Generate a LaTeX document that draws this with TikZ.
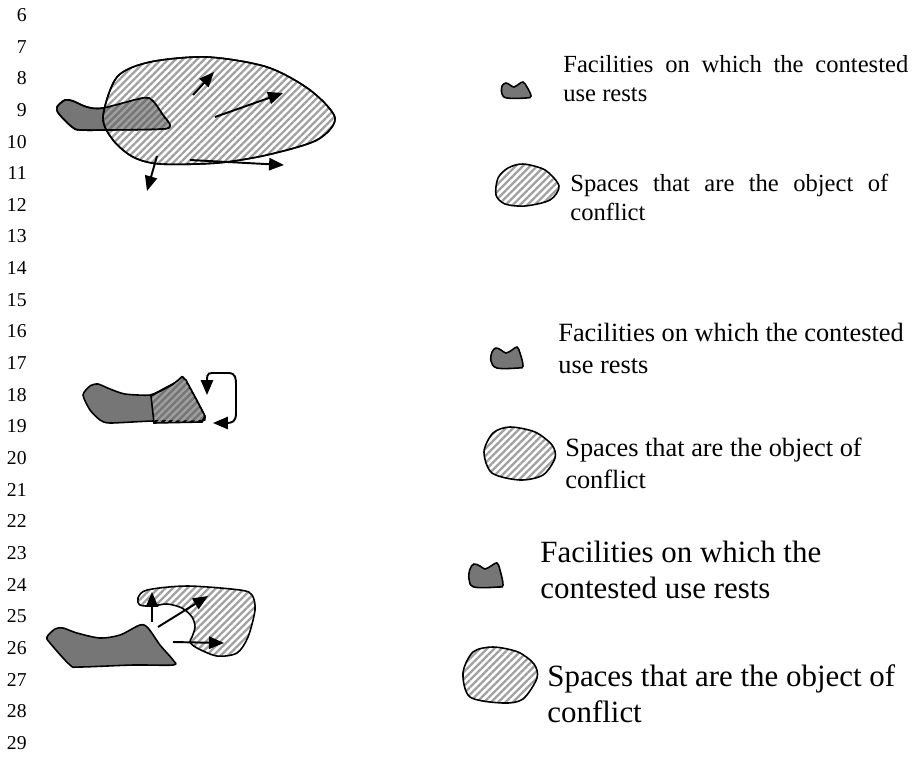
\documentclass[tikz,border=0pt]{standalone}
\usepackage{fontspec}
\setmainfont{Liberation Serif}
\usetikzlibrary{arrows.meta,patterns.meta}
\definecolor{facgray}{RGB}{118,118,118}
\definecolor{hatchgray}{RGB}{160,160,160}

\begin{document}
\begin{tikzpicture}[x=0.02cm, y=-0.02cm,
  facility/.style={draw=black, line width=0.9pt, fill=facgray},
  space/.style={draw=black, line width=0.9pt, pattern color=hatchgray,
                pattern={Lines[angle=45,distance=2.9pt,line width=1.3pt]}},
  outline/.style={draw=black, line width=0.9pt},
  arr/.style={-{Triangle[length=8.5pt,width=7pt]}, line width=1.1pt},
  lnum/.style={anchor=east, inner sep=0pt, font=\fontsize{11.2}{13}\selectfont},
  legA/.style={anchor=north west, inner sep=0pt, align=justify,
               font=\fontsize{14}{16.5}\selectfont},
  legB/.style={anchor=north west, inner sep=0pt, align=left,
               font=\fontsize{15}{18.2}\selectfont},
  legC/.style={anchor=north west, inner sep=0pt, align=left,
               font=\fontsize{17.6}{20.5}\selectfont}
]
\useasboundingbox (0,0) rectangle (912,761);

\foreach \n in {6,...,29}
  \node[lnum] (ln\n) at (27,{15+(\n-6)*31.65}) {\n};

% first case
\path[facility] plot[smooth cycle, tension=0.5] coordinates {
  (57,107) (65,100) (73,101) (87,107) (103,108) (143,98) (153,101)
  (163,115) (170,125) (163,129) (110,130) (80,130) (72,127) (59,114)};
\path[space] plot[smooth cycle] coordinates {
  (103,117) (117,77) (150,62) (207,57) (267,67) (310,90) (335,118)
  (317,140) (267,155) (217,163) (160,164) (133,157) (113,140)};
\draw[outline] plot[smooth cycle, tension=0.5] coordinates {
  (57,107) (65,100) (73,101) (87,107) (103,108) (143,98) (153,101)
  (163,115) (170,125) (163,129) (110,130) (80,130) (72,127) (59,114)};
\draw[outline] plot[smooth cycle] coordinates {
  (103,117) (117,77) (150,62) (207,57) (267,67) (310,90) (335,118)
  (317,140) (267,155) (217,163) (160,164) (133,157) (113,140)};

\coordinate (a1) at (193,95);  \coordinate (a2) at (214,72);
\coordinate (b1) at (215,117); \coordinate (b2) at (283,93);
\coordinate (c1) at (157,156); \coordinate (c2) at (147,191);
\coordinate (d1) at (190,160); \coordinate (d2) at (284,165);
\draw[arr] (a1) -- (a2);
\draw[arr] (b1) -- (b2);
\draw[arr] (c1) -- (c2);
\draw[arr] (d1) -- (d2);

% second case
\draw[facility] plot[smooth cycle, tension=0.4] coordinates {
  (83,395) (90,386) (98,384) (110,389) (125,394) (150,395) (165,388)
  (178,381) (183,377) (195,397) (205,417) (200,421) (153,421)
  (110,423) (100,420) (90,410)};
\draw[space] (151,396) -- (172,385) -- (182,377) -- (186,380)
  -- (205,416) -- (202,422) -- (154,423) -- cycle;

\coordinate (l1) at (207,395);
\coordinate (l2) at (213,423);
\draw[arr, {Triangle[length=8.5pt,width=7pt]}-{Triangle[length=8.5pt,width=7pt]}]
  (l1) .. controls (207,372) and (209,373) .. (217,373) -- (228,373)
  .. controls (236,373) and (236,378) .. (236,386) -- (236,413)
  .. controls (236,422) and (232,423) .. (226,423) -- (l2);

% third case
\draw[facility] plot[smooth cycle, tension=0.5] coordinates {
  (47,637) (55,629) (63,628) (77,633) (100,638) (120,635) (140,625)
  (148,628) (160,645) (173,660) (173,665) (133,665) (80,667) (70,665)
  (50,643)};
\draw[space] plot[smooth cycle, tension=0.5] coordinates {
  (147,590) (138,598) (140,605) (152,606) (167,604) (182,608) (192,617)
  (195,627) (192,637) (190,642) (197,648) (217,656) (237,653) (248,637)
  (255,610) (252,595) (240,590) (187,586)};

\coordinate (e1) at (152,622); \coordinate (e2) at (152,592);
\coordinate (f1) at (158,627); \coordinate (f2) at (208,596);
\coordinate (g1) at (173,642); \coordinate (g2) at (224,643);
\draw[arr] (e1) -- (e2);
\draw[arr] (f1) -- (f2);
\draw[arr] (g1) -- (g2);

% legends
\draw[facility] plot[smooth cycle, tension=0.6] coordinates {
  (502,86) (506,83) (510,85) (514,87) (519,84) (523,82) (527,87)
  (531,96) (526,98) (507,98) (502,94)};
\draw[space] plot[smooth cycle] coordinates {
  (523,164) (545,170) (559,186) (550,200) (525,206) (505,204)
  (496,195) (498,178) (508,168)};
\node[legA, text width=6.9cm] (fa) at (563,55)
  {Facilities on which the contested\linebreak use rests};
\node[legA, text width=6.36cm] (sa) at (570,174)
  {Spaces that are the object of\linebreak conflict};

\draw[facility] plot[smooth cycle, tension=0.6] coordinates {
  (492,352) (496,348) (501,350) (506,353) (512,350) (517,347) (520,353)
  (523,366) (518,368) (497,368) (491,361)};
\draw[space] plot[smooth cycle] coordinates {
  (510,427) (535,432) (552,445) (555,458) (543,475) (520,480)
  (492,473) (484,452) (493,433)};
\node[legB] (fb) at (558,323) {Facilities on which the contested\\use rests};
\node[legB] (sb) at (565,438) {Spaces that are the object of\\conflict};

\draw[facility] plot[smooth cycle, tension=0.6] coordinates {
  (470,569) (474,564) (480,566) (485,569) (491,566) (497,563) (500,570)
  (503,585) (498,587) (474,587) (469,579)};
\draw[space] plot[smooth cycle] coordinates {
  (493,647) (518,652) (534,664) (537,678) (523,699) (503,703)
  (470,697) (463,673) (473,652)};
\node[legC] (fc) at (540,541) {Facilities on which the\\contested use rests};
\node[legC] (sc) at (547,664) {Spaces that are the object of\\conflict};

\end{tikzpicture}
\end{document}
